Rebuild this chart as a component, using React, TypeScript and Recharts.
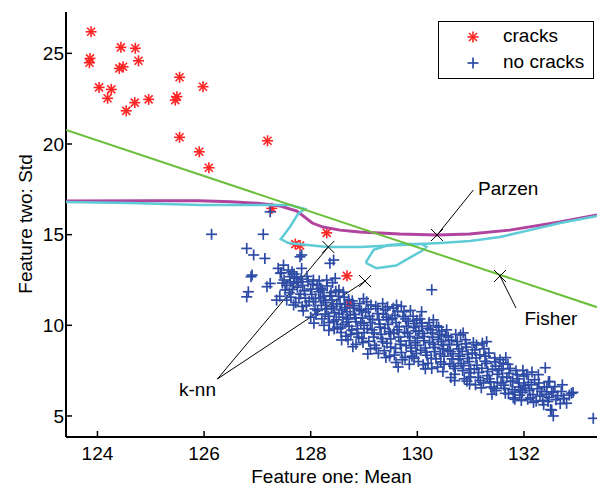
import { ScatterChart, Scatter, XAxis, YAxis, ReferenceLine, ReferenceDot, Legend } from "recharts";

const FONT = "'Liberation Sans', Arial, sans-serif";

const xTicks = [124, 126, 128, 130, 132];
const yTicks = [5, 10, 15, 20, 25];

const cracks = [
  [123.88, 26.19], [123.86, 24.72], [123.85, 24.48], [124.44, 25.33], [124.71, 25.28],
  [124.77, 24.59], [124.41, 24.17], [124.48, 24.26], [124.03, 23.12], [124.26, 23.01],
  [124.19, 22.52], [124.54, 21.83], [124.7, 22.28], [124.96, 22.46], [125.54, 23.68],
  [125.49, 22.61], [125.46, 22.42], [125.98, 23.16], [125.54, 20.37], [125.91, 19.57],
  [126.09, 18.69], [127.19, 20.18], [127.27, 16.45], [128.3, 15.1], [127.71, 14.48],
  [127.8, 14.4], [128.68, 12.73], [128.72, 11.17],
];

const noCracks = [
  // sparse points left of the band
  [126.14, 15.02], [127.11, 15.02], [127.24, 16.26], [126.8, 14.24], [126.93, 13.88],
  [127.14, 13.69], [126.9, 12.77], [127.24, 12.31], [127.18, 12.13], [126.83, 11.85],
  [126.8, 11.57], [127.39, 13.14], [127.49, 13.32], [127.43, 12.87], [127.61, 12.68],
  [127.68, 12.31], [127.36, 11.39], [127.55, 11.39], [127.68, 11.12], [127.83, 13.88],
  [126.88, 12.68], [127.83, 13.14], [128.43, 13.6], [128.46, 12.59], [128.3, 12.5],
  [127.8, 13.78], [128.36, 13.42], [128.05, 12.5], [127.74, 12.68], [130.27, 11.96],
  [133.3, 4.87], [129.64, 7.7], [128.58, 9.19], [129.61, 11.12], [130.08, 10.75],
  // band
  [127.45, 12.9], [127.5, 12.5], [127.55, 12.2], [127.6, 11.8], [127.42, 11.6], [127.65, 12.95],
  [127.7, 12.6], [127.75, 12.1], [127.78, 11.5], [127.52, 11.95], [127.62, 12.4], [127.72, 11.25],
  [127.82, 12.55], [127.85, 12.2], [127.88, 11.9], [127.9, 11.5], [127.92, 11.1], [127.95, 12.4],
  [128.0, 12.0], [128.02, 11.7], [128.05, 11.3], [128.08, 10.9], [128.1, 10.6], [128.12, 12.2],
  [128.15, 11.85], [128.18, 11.5], [128.2, 11.1], [127.86, 10.8], [128.0, 10.45], [128.16, 12.45],
  [128.22, 11.95], [128.25, 11.6], [128.28, 11.25], [128.3, 10.9], [128.33, 10.5], [128.35, 10.15],
  [128.38, 11.8], [128.4, 11.4], [128.42, 11.05], [128.45, 10.7], [128.48, 10.3], [128.5, 9.9],
  [128.52, 11.6], [128.55, 11.2], [128.58, 10.85], [128.6, 10.45], [128.6, 10.05], [128.57, 9.6],
  [128.25, 10.0], [128.44, 9.8],
  [128.63, 11.55], [128.65, 11.15], [128.68, 10.75], [128.7, 10.35], [128.72, 9.95], [128.75, 9.5],
  [128.78, 11.35], [128.8, 10.95], [128.82, 10.6], [128.85, 10.2], [128.88, 9.8], [128.9, 9.35],
  [128.92, 11.2], [128.95, 10.8], [128.97, 10.4], [129.0, 10.0], [129.0, 9.6], [128.98, 9.05],
  [128.7, 9.2], [128.85, 8.95],
  [129.05, 11.3], [129.08, 10.9], [129.1, 10.5], [129.12, 10.15], [129.15, 9.75], [129.18, 9.35],
  [129.2, 8.9], [129.22, 11.05], [129.25, 10.65], [129.28, 10.3], [129.3, 9.9], [129.32, 9.5],
  [129.35, 9.1], [129.38, 8.6], [129.4, 10.85], [129.42, 10.45], [129.45, 10.05], [129.47, 9.65],
  [129.5, 9.25], [129.5, 8.8], [129.48, 8.3], [129.12, 8.7], [129.35, 11.2],
  [129.55, 10.95], [129.58, 10.55], [129.6, 10.15], [129.62, 9.75], [129.65, 9.35], [129.68, 8.95],
  [129.7, 8.5], [129.72, 8.1], [129.75, 10.75], [129.78, 10.35], [129.8, 9.95], [129.82, 9.55],
  [129.85, 9.15], [129.88, 8.75], [129.9, 8.3], [129.92, 10.5], [129.95, 10.1], [129.97, 9.7],
  [130.0, 9.3], [130.0, 8.9], [129.98, 8.45], [130.02, 8.0], [129.6, 7.95], [129.85, 7.85],
  [129.7, 11.05],
  [130.05, 10.35], [130.08, 9.95], [130.1, 9.55], [130.12, 9.15], [130.15, 8.75], [130.18, 8.35],
  [130.2, 7.9], [130.22, 10.15], [130.25, 9.75], [130.28, 9.35], [130.3, 8.95], [130.32, 8.55],
  [130.35, 8.15], [130.38, 7.7], [130.4, 9.9], [130.42, 9.5], [130.45, 9.1], [130.47, 8.7],
  [130.5, 8.3], [130.5, 7.85], [130.48, 7.45], [130.15, 7.6], [130.3, 10.3],
  [130.55, 9.75], [130.58, 9.35], [130.6, 8.95], [130.62, 8.55], [130.65, 8.15], [130.68, 7.75],
  [130.7, 7.3], [130.72, 9.5], [130.75, 9.1], [130.78, 8.7], [130.8, 8.3], [130.82, 7.9],
  [130.85, 7.5], [130.88, 7.05], [130.9, 9.2], [130.92, 8.8], [130.95, 8.4], [130.97, 8.0],
  [131.0, 7.6], [131.0, 7.15], [130.98, 6.75], [130.7, 6.95],
  [131.05, 9.05], [131.08, 8.65], [131.1, 8.2], [131.12, 7.8], [131.15, 7.4], [131.18, 6.95],
  [131.2, 6.55], [131.25, 8.7], [131.28, 8.3], [131.3, 7.9], [131.32, 7.45], [131.35, 7.05],
  [131.38, 6.6], [131.4, 6.2], [131.45, 8.2], [131.47, 7.75], [131.5, 7.3], [131.5, 6.85],
  [131.48, 6.4], [131.3, 9.1],
  [131.55, 8.1], [131.58, 7.6], [131.6, 7.15], [131.62, 6.7], [131.65, 6.25], [131.7, 7.85],
  [131.72, 7.35], [131.75, 6.9], [131.78, 6.45], [131.8, 6.0], [131.85, 7.5], [131.88, 7.05],
  [131.9, 6.6], [131.92, 6.15], [131.95, 5.85], [132.0, 7.2], [132.0, 6.7], [131.97, 6.3],
  [132.05, 7.3], [132.08, 6.85], [132.1, 6.4], [132.12, 6.0], [132.18, 5.75], [132.2, 7.0],
  [132.25, 6.5], [132.3, 6.1], [132.35, 5.85], [132.38, 6.6], [132.42, 6.2], [132.45, 5.8],
  [132.5, 5.35], [132.48, 6.9], [132.55, 6.3], [132.6, 5.9],
  [132.7, 6.35], [132.75, 5.95], [132.85, 6.15], [132.92, 6.3], [132.8, 5.7], [132.55, 5.0],
  [132.4, 7.66], [132.89, 6.25], [132.74, 5.97], [132.52, 5.33], [132.46, 6.89], [132.52, 6.33],
  // more band points, filling the gaps
  [127.47, 12.33], [127.58, 13.05], [127.63, 11.55], [127.69, 12.83], [127.77, 12.38], [127.81, 11.72],
  [127.93, 12.7], [127.97, 11.32], [127.84, 11.04], [127.66, 11.98],
  [128.04, 12.27], [128.09, 11.48], [128.13, 10.82], [128.19, 12.05], [128.24, 11.37], [128.27, 10.62],
  [128.31, 12.17], [128.36, 11.63], [128.39, 10.93], [128.43, 10.22], [128.47, 11.88], [128.49, 11.18],
  [128.34, 9.72], [128.21, 10.36], [128.06, 10.12], [128.41, 12.35],
  [128.53, 10.63], [128.56, 9.85], [128.61, 11.83], [128.64, 10.97], [128.67, 10.18], [128.71, 11.42],
  [128.74, 10.58], [128.77, 9.74], [128.81, 11.08], [128.84, 10.41], [128.87, 9.57], [128.91, 10.86],
  [128.94, 10.12], [128.96, 9.28], [128.99, 11.47], [128.66, 9.4], [128.79, 8.82], [128.53, 11.95],
  [129.03, 10.73], [129.06, 9.82], [129.09, 9.12], [129.13, 11.12], [129.16, 10.33], [129.19, 9.58],
  [129.23, 8.74], [129.26, 10.92], [129.29, 10.07], [129.33, 9.27], [129.36, 10.62], [129.39, 9.83],
  [129.43, 9.01], [129.46, 10.31], [129.49, 9.54], [129.27, 8.45], [129.41, 8.22], [129.07, 8.42],
  [129.44, 11.02],
  [129.53, 10.38], [129.56, 9.57], [129.59, 8.73], [129.63, 10.77], [129.66, 9.92], [129.69, 9.13],
  [129.73, 10.48], [129.76, 9.62], [129.79, 8.88], [129.83, 10.23], [129.86, 9.38], [129.89, 8.57],
  [129.93, 9.88], [129.96, 9.04], [129.99, 10.28], [129.77, 8.23], [129.94, 8.18], [129.57, 8.36],
  [129.87, 10.82],
  [130.03, 9.68], [130.06, 8.63], [130.09, 10.12], [130.13, 9.38], [130.16, 8.52], [130.19, 9.83],
  [130.23, 9.05], [130.26, 8.18], [130.29, 9.58], [130.33, 8.78], [130.36, 9.97], [130.39, 9.22],
  [130.43, 8.42], [130.46, 9.67], [130.49, 8.92], [130.27, 7.62], [130.44, 7.98], [130.11, 7.83],
  [130.53, 9.42], [130.57, 8.62], [130.61, 7.88], [130.64, 9.18], [130.67, 8.43], [130.71, 7.62],
  [130.74, 8.93], [130.77, 8.12], [130.81, 9.47], [130.84, 8.57], [130.87, 7.78], [130.91, 8.98],
  [130.94, 8.17], [130.97, 7.38], [130.86, 9.58], [130.63, 7.12], [130.93, 6.92],
  [131.03, 8.47], [131.07, 7.58], [131.11, 8.92], [131.14, 7.12], [131.17, 8.37], [131.21, 7.63],
  [131.24, 6.82], [131.27, 8.02], [131.31, 7.22], [131.34, 8.47], [131.37, 6.88], [131.41, 7.58],
  [131.44, 6.52], [131.46, 7.98], [131.22, 9.02], [131.09, 6.72],
  [131.53, 7.52], [131.57, 6.82], [131.61, 7.92], [131.64, 6.52], [131.68, 7.12], [131.71, 6.22],
  [131.74, 7.62], [131.79, 6.92], [131.83, 6.32], [131.87, 7.28], [131.91, 6.82], [131.94, 6.42],
  [131.98, 7.52], [131.66, 8.22], [131.83, 5.92],
  [132.03, 6.52], [132.07, 5.92], [132.14, 6.72], [132.17, 6.18], [132.23, 5.82], [132.28, 6.82],
  [132.33, 6.35], [132.37, 5.62], [132.43, 6.58], [132.47, 6.02], [132.58, 6.62], [132.63, 6.12],
  [132.68, 5.68], [132.27, 7.28], [132.15, 7.42], [132.72, 6.72],
];

const fisherLine = [[123.41, 20.77], [133.37, 11.0]];

const parzenCurve = [
  [123.41, 16.85], [125.0, 16.87], [125.9, 16.87], [126.5, 16.82], [127.05, 16.72],
  [127.43, 16.58], [127.74, 16.3], [128.03, 15.64], [128.23, 15.42], [128.55, 15.25],
  [128.92, 15.14], [129.67, 15.03], [130.37, 14.98], [130.98, 15.03], [131.73, 15.25],
  [132.67, 15.7], [133.37, 16.09],
];

const knnCurve = [
  [123.41, 16.8], [124.61, 16.74], [125.93, 16.63], [127.05, 16.63], [127.61, 16.63],
  [127.89, 16.41], [127.76, 16.14], [127.61, 15.42], [127.44, 14.76], [127.58, 14.54],
  [128.31, 14.32], [128.93, 14.32], [129.68, 14.43], [130.43, 14.54], [130.99, 14.65],
  [131.55, 14.87], [132.11, 15.25], [132.68, 15.64], [133.37, 16.03],
];

const knnLoop = [
  [129.03, 13.45], [129.18, 14.16], [129.46, 14.43], [129.78, 14.49], [130.08, 14.49],
  [130.17, 14.32], [130.08, 14.1], [129.6, 13.3], [129.23, 13.15], [129.03, 13.45],
];

const crossMarks = [[128.33, 14.32], [129.02, 12.44], [130.37, 14.98], [131.55, 12.72]];

const pointerLines = [
  [[126.25, 7.04], [128.33, 14.32]],
  [[126.25, 7.04], [129.02, 12.44]],
  [[130.37, 14.98], [131.05, 17.46]],
  [[131.55, 12.72], [131.85, 10.96]],
];

const labelNames = ["Parzen", "Fisher", "k-nn"];
const labelSpots = [[131.14, 17.54], [132.01, 10.37], [125.53, 6.48]];

const toPts = (arr: number[][]) => arr.map(([x, y]) => ({ x, y }));

const Asterisk = (p: any) => {
  const { cx, cy } = p;
  const r = 5.5;
  const d = 4;
  return (
    <g stroke="#ff2424" strokeWidth={1.6}>
      <line x1={cx - r} x2={cx + r} y1={cy} y2={cy} />
      <line x1={cx} x2={cx} y1={cy - r} y2={cy + r} />
      <line x1={cx - d} x2={cx + d} y1={cy - d} y2={cy + d} />
      <line x1={cx - d} x2={cx + d} y1={cy + d} y2={cy - d} />
    </g>
  );
};

const Plus = (p: any) => {
  const { cx, cy } = p;
  const r = 5.5;
  return (
    <g stroke="#2d4ba5" strokeWidth={1.7}>
      <line x1={cx - r} x2={cx + r} y1={cy} y2={cy} />
      <line x1={cx} x2={cx} y1={cy - r} y2={cy + r} />
    </g>
  );
};

const XMark = (p: any) => {
  const { cx, cy } = p;
  const r = 6;
  return (
    <g stroke="#000" strokeWidth={1}>
      <line x1={cx - r} x2={cx + r} y1={cy - r} y2={cy + r} />
      <line x1={cx - r} x2={cx + r} y1={cy + r} y2={cy - r} />
    </g>
  );
};

const NoShape = () => <g />;

const BottomTick = ({ x, y, payload }: any) => (
  <g>
    <line x1={x} x2={x} y1={y} y2={y - 6} stroke="#000" strokeWidth={1.5} />
    <text x={x} y={y + 23} textAnchor="middle" fontSize={19} fontFamily={FONT} fill="#000">
      {payload.value}
    </text>
  </g>
);

const TopTick = ({ x, y }: any) => (
  <line x1={x} x2={x} y1={y} y2={y + 6} stroke="#000" strokeWidth={1.5} />
);

const LeftTick = ({ x, y, payload }: any) => (
  <g>
    <line x1={x} x2={x + 6} y1={y} y2={y} stroke="#000" strokeWidth={1.5} />
    <text x={x - 2} y={y} dy="0.35em" textAnchor="end" fontSize={19} fontFamily={FONT} fill="#000">
      {payload.value}
    </text>
  </g>
);

const LegendBox = () => (
  <div
    style={{
      width: 154,
      height: 56,
      border: "1px solid #000",
      background: "#fff",
      fontFamily: FONT,
      fontSize: 19,
      position: "relative",
    }}
  >
    <svg width={30} height={56} style={{ position: "absolute", left: 20, top: 0 }}>
      <Asterisk cx={14} cy={15} />
      <Plus cx={14} cy={41} />
    </svg>
    <div style={{ position: "absolute", left: 64, top: 3, lineHeight: "22px" }}>cracks</div>
    <div style={{ position: "absolute", left: 64, top: 29, lineHeight: "22px" }}>no cracks</div>
  </div>
);

export default function App() {
  return (
    <div style={{ position: "absolute", left: 0, top: 0, background: "#fff" }}>
      <ScatterChart width={597} height={487} margin={{ top: 12, right: 0, bottom: 0, left: 0 }}>
        <XAxis
          type="number"
          dataKey="x"
          domain={[123.41, 133.37]}
          allowDataOverflow
          ticks={xTicks}
          tickLine={false}
          tickSize={0}
          tickMargin={0}
          tick={BottomTick}
          height={50}
          axisLine={{ stroke: "#000", strokeWidth: 2 }}
          label={{ value: "Feature one: Mean", position: "insideBottom", offset: 4, fontSize: 19, fill: "#000", fontFamily: FONT }}
        />
        <XAxis
          xAxisId="top"
          orientation="top"
          type="number"
          dataKey="x"
          domain={[123.41, 133.37]}
          allowDataOverflow
          ticks={xTicks}
          tickLine={false}
          tickSize={0}
          tickMargin={0}
          tick={TopTick}
          height={0}
          axisLine={{ stroke: "#000", strokeWidth: 2 }}
        />
        <YAxis
          type="number"
          dataKey="y"
          domain={[3.84, 27.28]}
          allowDataOverflow
          ticks={yTicks}
          tickLine={false}
          tickSize={0}
          tickMargin={0}
          tick={LeftTick}
          width={66}
          axisLine={{ stroke: "#000", strokeWidth: 2 }}
          label={{
            content: () => (
              <text
                x={25}
                y={224}
                transform="rotate(-90, 25, 224)"
                textAnchor="middle"
                dominantBaseline="central"
                fontSize={19}
                fontFamily={FONT}
                fill="#000"
              >
                Feature two: Std
              </text>
            ),
          }}
        />
        <Legend
          layout="vertical"
          align="center"
          verticalAlign="middle"
          content={LegendBox}
          wrapperStyle={{ left: 438, top: 21, width: 156, height: 58 }}
        />
        <Scatter name="cracks" data={toPts(cracks)} shape={Asterisk} isAnimationActive={false} />
        <Scatter name="no cracks" data={toPts(noCracks)} shape={Plus} isAnimationActive={false} />
        <Scatter data={toPts(parzenCurve)} line={{ stroke: "#b0449e", strokeWidth: 3 }} shape={NoShape} legendType="none" isAnimationActive={false} />
        <Scatter data={toPts(knnCurve)} line={{ stroke: "#5ecbd6", strokeWidth: 2.5 }} shape={NoShape} legendType="none" isAnimationActive={false} />
        <Scatter data={toPts(knnLoop)} line={{ stroke: "#5ecbd6", strokeWidth: 2.5 }} shape={NoShape} legendType="none" isAnimationActive={false} />
        <Scatter data={toPts(fisherLine)} line={{ stroke: "#6cbf3a", strokeWidth: 2 }} shape={NoShape} legendType="none" isAnimationActive={false} />
        {pointerLines.map((seg, i) => (
          <ReferenceLine
            key={i}
            segment={[{ x: seg[0][0], y: seg[0][1] }, { x: seg[1][0], y: seg[1][1] }]}
            stroke="#000"
            strokeWidth={1}
            ifOverflow="visible"
          />
        ))}
        <Scatter data={toPts(crossMarks)} shape={XMark} legendType="none" isAnimationActive={false} />
        {labelSpots.map(([x, y], i) => (
          <ReferenceDot
            key={labelNames[i]}
            x={x}
            y={y}
            r={0}
            fill="none"
            stroke="none"
            ifOverflow="visible"
            label={{ value: labelNames[i], position: "right", offset: 0, fontSize: 19, fill: "#000", fontFamily: FONT }}
          />
        ))}
      </ScatterChart>
    </div>
  );
}
